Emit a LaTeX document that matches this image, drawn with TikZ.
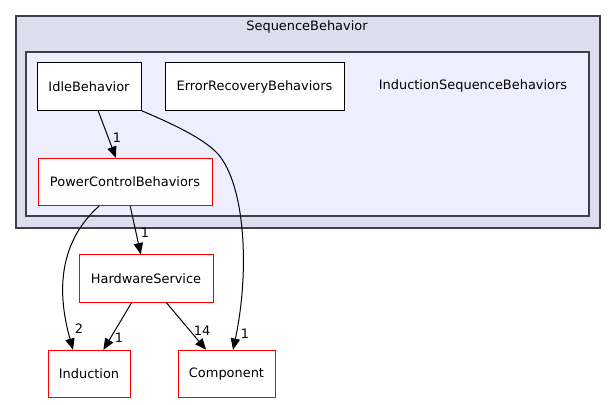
\documentclass[tikz,border=0pt]{standalone}
\usepackage{fontspec}
\setmainfont{DejaVu Sans}
\usetikzlibrary{arrows.meta}
\begin{document}
\begin{tikzpicture}[x=0.75pt,y=-0.75pt,
    every node/.style={font=\fontsize{9.7}{11}\selectfont},
    carpeta/.style={draw=black,fill=white,line width=0.75pt,minimum height=35.5pt,inner sep=0pt},
    carpetaroja/.style={carpeta,draw=red},
    dep/.style={draw=black,line width=0.75pt,-{Triangle[length=8.5pt,width=7pt]}},
    cuenta/.style={inner sep=0pt}]
        \useasboundingbox (0,0) rectangle (616,404);

        % Cluster SequenceBehavior
        \filldraw[fill={rgb,255:red,221;green,221;blue,238},draw={rgb,255:red,64;green,64;blue,72},line width=1pt] (16,16) rectangle (600,228);
        \node (seqlabel) at (307,27) {SequenceBehavior};

        % Cluster InductionSequenceBehaviors
        \filldraw[fill={rgb,255:red,238;green,238;blue,255},draw={rgb,255:red,64;green,64;blue,72},line width=1pt] (26,52) rectangle (589,216);
        \node (indseqlabel) at (473,86) {InductionSequenceBehaviors};

        % Directorios
        \node[carpeta,minimum width=78pt] (idle) at (89,86.5) {IdleBehavior};
        \node[carpeta,minimum width=134.25pt] (error) at (254.5,86.5) {ErrorRecoveryBehaviors};
        \node[carpetaroja,minimum width=130.5pt] (power) at (125,182) {PowerControlBehaviors};
        \node[carpetaroja,minimum width=100.5pt] (hardware) at (146,278.5) {HardwareService};
        \node[carpetaroja,minimum width=61.5pt] (induction) at (89,374) {Induction};
        \node[carpetaroja,minimum width=72.75pt] (component) at (226.5,374) {Component};

        % Dependencias
        \draw[dep] (idle) -- (power);
        \draw[dep] (power) -- (hardware);
        \draw[dep] (hardware) -- (induction);
        \draw[dep] (hardware) -- (component);
        \draw[dep] (idle.south east) .. controls (180,127) and (205,140) .. (218,154)
            .. controls (245,185) and (250,270) .. ([xshift=4.9pt]component.north);
        \draw[dep] ([xshift=-19.5pt]power.south) .. controls (50,250) and (62,310) .. ([xshift=-12pt]induction.north);

        % Etiquetas
        \node[cuenta] (c1) at (117,138) {1};
        \node[cuenta] (c2) at (145,233) {1};
        \node[cuenta] (c3) at (119,338) {1};
        \node[cuenta] (c4) at (202,331) {14};
        \node[cuenta] (c5) at (79,329) {2};
        \node[cuenta] (c6) at (245,334) {1};
    \end{tikzpicture}
\end{document}
